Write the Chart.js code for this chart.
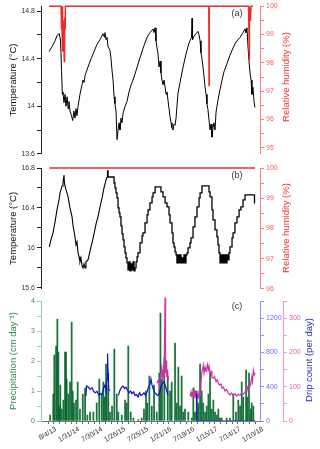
<!DOCTYPE html>
<html>
<head>
<meta charset="utf-8">
<script src="https://cdn.jsdelivr.net/npm/chart.js@4.4.1/dist/chart.umd.min.js"></script>
<style>
  body { margin: 0; background: #fff; font-family: "Liberation Sans", Arial, sans-serif; }
  #wrap { position: relative; width: 320px; height: 449px; overflow: hidden; }
  canvas { position: absolute; left: 0; }
  .rt { position: absolute; white-space: nowrap; font-size: 9.5px; transform: translate(-50%, -50%) rotate(-90deg); }
  .pl { position: absolute; font-size: 9px; color: #333; transform: translate(-50%, -50%); }
</style>
</head>
<body>
<div id="wrap">
  <canvas id="chartA" width="320" height="160" style="top:0"></canvas>
  <canvas id="chartB" width="320" height="135" style="top:160px"></canvas>
  <canvas id="chartC" width="320" height="154" style="top:295px"></canvas>
  <div class="rt" style="left:285px;top:77px;color:#ee3333">Relative humidity (%)</div>
  <div class="rt" style="left:285px;top:228px;color:#ee3333">Relative humidity (%)</div>
  <div class="rt" style="left:308px;top:360px;color:#2a2ad0">Drip count (per day)</div>
  <div class="pl" style="left:237px;top:13px">(a)</div>
  <div class="pl" style="left:237px;top:175px">(b)</div>
  <div class="pl" style="left:237px;top:306px">(c)</div>
</div>
<script>
// x = days since 8/4/13
const X_MIN = -55;
const X_MAX = 1659;
const xTickDays = [];
for (let d = 0; d <= 1620; d += 45) xTickDays.push(d);
const xMajorLabels = ["8/4/13", "1/31/14", "7/30/14", "1/26/15", "7/25/15", "1/21/16", "7/19/16", "1/15/17", "7/14/17", "1/10/18"];

// panel (a)
const tempADays = [8, 31, 55, 73, 88, 98, 106, 112, 117, 125, 133, 141, 149, 157, 164, 172, 184, 193, 203, 211, 219, 227, 235, 250, 266, 274, 282, 290, 313, 337, 360, 383, 407, 430, 442, 446, 454, 462, 470, 485, 493, 501, 509, 517, 524, 532, 540, 548, 556, 563, 571, 579, 587, 603, 618, 634, 650, 665, 689, 720, 751, 775, 798, 822, 830, 838, 845, 853, 861, 869, 877, 884, 892, 900, 908, 916, 924, 931, 939, 947, 955, 963, 970, 978, 986, 994, 1002, 1017, 1033, 1057, 1080, 1103, 1111, 1123, 1127, 1131, 1143, 1158, 1174, 1182, 1190, 1197, 1205, 1213, 1221, 1229, 1237, 1244, 1252, 1260, 1268, 1276, 1283, 1291, 1299, 1307, 1315, 1330, 1346, 1362, 1377, 1401, 1424, 1448, 1471, 1503, 1526, 1542, 1549, 1557, 1565, 1573, 1581, 1589, 1596, 1604, 1612, 1620];
const tempAValues = [14.46, 14.50, 14.55, 14.60, 14.61, 14.55, 14.30, 14.10, 14.12, 14.03, 14.10, 14.00, 14.08, 13.98, 14.04, 13.96, 13.92, 13.88, 13.96, 13.90, 13.98, 13.92, 14.00, 14.10, 14.18, 14.22, 14.20, 14.26, 14.33, 14.40, 14.46, 14.52, 14.56, 14.61, 14.58, 14.62, 14.56, 14.58, 14.50, 14.47, 14.40, 14.30, 14.22, 14.08, 14.02, 13.96, 13.72, 13.80, 13.86, 13.80, 13.90, 13.86, 13.94, 14.00, 14.04, 14.12, 14.18, 14.22, 14.30, 14.41, 14.51, 14.58, 14.62, 14.65, 14.62, 14.66, 14.55, 14.49, 14.44, 14.33, 14.38, 14.28, 14.22, 14.18, 14.22, 14.16, 14.10, 14.12, 14.05, 13.98, 13.91, 13.86, 13.82, 13.80, 13.85, 13.84, 13.90, 14.11, 14.20, 14.33, 14.44, 14.53, 14.55, 14.58, 14.74, 14.56, 14.59, 14.61, 14.63, 14.60, 14.55, 14.45, 14.40, 14.33, 14.25, 14.16, 14.10, 14.02, 13.97, 13.88, 13.80, 13.85, 13.74, 13.82, 13.86, 13.80, 13.95, 14.05, 14.14, 14.22, 14.29, 14.36, 14.43, 14.49, 14.54, 14.58, 14.62, 14.65, 14.62, 14.66, 14.50, 14.38, 14.28, 14.22, 14.10, 14.16, 14.04, 13.99];
const rhADays = [8, 102, 104, 107, 110, 112, 116, 119, 122, 127, 130, 133, 135, 1258, 1260, 1262, 1569, 1573, 1575, 1578, 1583, 1586, 1590, 1604];
const rhAValues = [100, 100, 99.2, 100, 99.0, 100, 98.4, 99.5, 98.9, 98.05, 99.6, 99.2, 100, 100, 97.2, 100, 100, 98.9, 98.1, 100, 99.5, 99.7, 100, 100];
const tempATicks = [13.6, 13.8, 14, 14.2, 14.4, 14.6, 14.8];
const tempALabels = ["13.6", "", "14", "", "14.4", "", "14.8"];
const rhATicks = [95, 95.5, 96, 96.5, 97, 97.5, 98, 98.5, 99, 99.5, 100];
const rhALabels = ["95", "", "96", "", "97", "", "98", "", "99", "", "100"];

// panel (b)
const tempBSmoothDays = [10, 23, 39, 55, 70, 86, 94, 110, 117, 125, 129, 141, 157, 172, 188, 196, 211, 219, 227, 235, 243, 250, 258, 266, 274, 282, 290, 297, 313, 329, 344, 360, 376, 391, 407, 423, 438, 454, 462];
const tempBSmoothValues = [16.01, 16.08, 16.15, 16.26, 16.38, 16.48, 16.55, 16.62, 16.65, 16.73, 16.64, 16.58, 16.51, 16.40, 16.31, 16.22, 16.11, 16.03, 16.06, 15.95, 15.91, 15.86, 15.90, 15.82, 15.80, 15.84, 15.80, 15.86, 15.88, 15.97, 16.05, 16.14, 16.24, 16.31, 16.41, 16.50, 16.60, 16.68, 16.71];
const tempBStepDays = [462, 466, 470, 509, 517, 524, 532, 540, 548, 556, 563, 571, 579, 587, 595, 603, 610, 618, 626, 634, 642, 650, 657, 665, 673, 681, 689, 697, 704, 720, 736, 743, 759, 775, 783, 798, 814, 822, 838, 877, 884, 900, 916, 931, 947, 955, 970, 978, 986, 994, 1002, 1009, 1017, 1025, 1033, 1041, 1049, 1057, 1064, 1072, 1080, 1088, 1096, 1111, 1119, 1135, 1150, 1166, 1182, 1190, 1205, 1252, 1260, 1268, 1283, 1291, 1307, 1322, 1330, 1338, 1346, 1354, 1362, 1370, 1377, 1385, 1393, 1401, 1408, 1416, 1424, 1440, 1448, 1463, 1479, 1495, 1510, 1526, 1542, 1612, 1616, 1620];
const tempBStepValues = [16.71, 16.77, 16.71, 16.71, 16.65, 16.60, 16.55, 16.50, 16.40, 16.35, 16.31, 16.22, 16.14, 16.08, 16.01, 15.95, 15.90, 15.85, 15.78, 15.86, 15.77, 15.84, 15.78, 15.86, 15.77, 15.80, 15.86, 15.91, 15.95, 16.05, 16.12, 16.15, 16.25, 16.33, 16.38, 16.45, 16.51, 16.55, 16.61, 16.61, 16.56, 16.51, 16.45, 16.41, 16.33, 16.25, 16.15, 16.05, 16.01, 15.96, 15.93, 15.85, 15.93, 15.85, 15.93, 15.85, 15.90, 15.85, 15.93, 15.85, 15.93, 15.95, 16.00, 16.05, 16.10, 16.21, 16.31, 16.41, 16.50, 16.55, 16.62, 16.62, 16.56, 16.51, 16.38, 16.28, 16.18, 16.11, 16.03, 15.95, 15.85, 15.93, 15.85, 15.93, 15.85, 15.93, 15.85, 15.93, 15.88, 15.95, 16.01, 16.10, 16.15, 16.25, 16.31, 16.38, 16.41, 16.48, 16.53, 16.53, 16.45, 16.45];
const rhBDays = [10, 1620];
const rhBValues = [100, 100];
const tempBTicks = [15.6, 15.8, 16, 16.2, 16.4, 16.6, 16.8];
const tempBLabels = ["15.6", "", "16", "", "16.4", "", "16.8"];
const rhBTicks = [96, 96.5, 97, 97.5, 98, 98.5, 99, 99.5, 100];
const rhBLabels = ["96", "", "97", "", "98", "", "99", "", "100"];

// panel (c)
const precipDays = [16, 41, 49, 63, 73, 81, 88, 96, 107, 120, 133, 141, 146, 159, 172, 185, 193, 203, 219, 232, 250, 272, 290, 308, 329, 355, 381, 401, 420, 433, 442, 454, 459, 472, 485, 501, 519, 538, 550, 577, 603, 616, 628, 647, 668, 707, 733, 751, 767, 777, 793, 812, 830, 851, 871, 880, 892, 910, 937, 955, 968, 994, 1007, 1020, 1033, 1046, 1059, 1072, 1098, 1125, 1137, 1150, 1164, 1176, 1190, 1203, 1215, 1229, 1242, 1255, 1268, 1281, 1294, 1307, 1320, 1333, 1346, 1359, 1398, 1424, 1450, 1471, 1489, 1503, 1516, 1528, 1550, 1560, 1573, 1586, 1594, 1607];
const precipValues = [0.2, 0.9, 2.2, 2.5, 3.4, 2.3, 0.5, 1.2, 0.4, 0.7, 2.3, 2.3, 1.4, 0.9, 1.3, 3.3, 1.0, 0.6, 0.7, 1.3, 0.4, 0.9, 1.1, 0.2, 0.3, 0.3, 0.6, 1.4, 0.9, 1.3, 0.8, 1.9, 1.1, 1.2, 0.3, 0.5, 2.4, 0.9, 0.3, 0.2, 0.7, 0.6, 2.5, 0.3, 0.1, 0.05, 0.1, 0.4, 1.0, 0.6, 1.5, 0.5, 1.2, 0.3, 1.6, 3.6, 1.4, 2.1, 1.5, 1.0, 1.3, 2.6, 0.6, 1.8, 0.5, 1.5, 0.3, 0.4, 0.3, 0.1, 1.1, 0.3, 1.0, 0.6, 1.9, 1.0, 0.6, 0.3, 0.5, 0.9, 1.6, 0.4, 0.7, 0.3, 0.2, 0.4, 0.1, 0.1, 0.1, 0.1, 0.9, 0.3, 0.7, 0.5, 1.3, 0.8, 1.7, 0.8, 1.6, 0.4, 0.6, 0.5];
const dripBlueDays = [297, 301, 313, 329, 344, 356, 368, 383, 399, 411, 423, 434, 446, 454, 462, 466, 470, 473, 481, 515, 550, 563, 575, 587, 599, 610, 622, 634, 646, 657, 669, 681, 693, 704, 716, 728, 740, 751, 763, 775, 787, 798, 806, 814, 826, 838, 849, 861, 873, 884, 896, 908, 920, 931, 939, 1050, 1162, 1166, 1620];
const dripBlueValues = [290, 410, 400, 370, 390, 350, 330, 345, 300, 320, 310, 380, 420, 360, 500, 790, 560, 380, 350, null, 300, 360, 390, 410, 380, 395, 360, 330, 350, 320, 340, 300, 310, 280, 330, 300, 310, 330, 300, 340, 400, 430, 490, 420, 360, 330, 310, 300, 330, 400, 440, 460, 400, 340, 300, null, 330, 0, 0];
const dripPinkDays = [853, 863, 873, 877, 884, 890, 896, 902, 908, 916, 920, 924, 929, 935, 941, 1020, 1111, 1119, 1125, 1131, 1137, 1143, 1150, 1158, 1164, 1170, 1176, 1182, 1190, 1197, 1203, 1209, 1215, 1221, 1229, 1237, 1242, 1248, 1255, 1260, 1268, 1276, 1283, 1294, 1303, 1315, 1323, 1333, 1342, 1354, 1362, 1372, 1385, 1397, 1411, 1424, 1436, 1450, 1463, 1475, 1489, 1503, 1516, 1526, 1542, 1550, 1560, 1565, 1575, 1585, 1594, 1600, 1607, 1614, 1620];
const dripPinkValues = [110, 119, 100, 128, 140, 157, 130, 148, 120, 361, 140, 177, 128, 150, 119, null, 73, 85, 70, 82, 76, 90, 67, 85, 81, 70, 67, 85, 76, 110, 140, 150, 163, 140, 158, 145, 154, 165, 150, 160, 140, 145, 128, 125, 130, 115, 120, 111, 105, 108, 96, 99, 88, 92, 81, 76, 82, 74, 80, 73, 78, 75, 82, 78, 84, 95, 99, 90, 113, 105, 128, 115, 148, 134, 140];
const precipTicks = [0, 0.5, 1, 1.5, 2, 2.5, 3, 3.5, 4];
const precipLabels = ["0", "", "1", "", "2", "", "3", "", "4"];
const blueTicks = [0, 200, 400, 600, 800, 1000, 1200, 1400];
const blueLabels = ["0", "", "400", "", "800", "", "1200", ""];
const pinkTicks = [0, 50, 100, 150, 200, 250, 300, 350];
const pinkLabels = ["0", "", "100", "", "200", "", "300", ""];

function pts(days, vals) {
  return days.map((d, i) => ({ x: d, y: vals[i] }));
}

const tickFont = { family: "'Liberation Sans', Arial, sans-serif", size: 7 };
const titleFont = { family: "'Liberation Sans', Arial, sans-serif", size: 9.5 };

// y axis with explicit ticks and labels
function yAxis(pos, min, max, ticks, labels, width, col, labelCol, extra) {
  return Object.assign({
    type: "linear",
    position: pos,
    min: min,
    max: max,
    afterFit: (s) => { s.width = width; },
    afterBuildTicks: (s) => { s.ticks = ticks.map((v) => ({ value: v })); },
    ticks: { callback: (v, i) => labels[i], font: tickFont, color: labelCol, padding: 2, autoSkip: false },
    grid: { drawOnChartArea: false, tickLength: 4, color: col },
    border: { color: col, width: 1 },
  }, extra || {});
}

function hiddenX() {
  return { type: "linear", min: X_MIN, max: X_MAX, display: false };
}

const baseOpts = {
  responsive: false,
  animation: false,
  devicePixelRatio: 1,
  plugins: { legend: { display: false }, tooltip: { enabled: false } },
  elements: { point: { radius: 0 } },
};

// (a)
new Chart(document.getElementById("chartA"), {
  type: "line",
  data: {
    datasets: [
      { data: pts(rhADays, rhAValues), yAxisID: "yR", borderColor: "#f02a2a", borderWidth: 1.4, clip: false },
      { data: pts(tempADays, tempAValues), yAxisID: "yT", borderColor: "#000", borderWidth: 1 },
    ],
  },
  options: Object.assign({}, baseOpts, {
    layout: { padding: { top: 5, bottom: 6, left: 0, right: 0 } },
    scales: {
      x: hiddenX(),
      yT: yAxis("left", 13.6, 14.8417, tempATicks, tempALabels, 41, "#222", "#333", {
        title: { display: true, text: "Temperature (°C)", font: titleFont, color: "#111", padding: { top: 8, bottom: 0 } },
      }),
      yR: yAxis("right", 94.79, 100, rhATicks, rhALabels, 60, "#ff8080", "#ff5a5a"),
    },
  }),
});

// (b)
new Chart(document.getElementById("chartB"), {
  type: "line",
  data: {
    datasets: [
      { data: pts(rhBDays, rhBValues), yAxisID: "yR", borderColor: "#f02a2a", borderWidth: 1.4, clip: false },
      { data: pts(tempBSmoothDays, tempBSmoothValues), yAxisID: "yT", borderColor: "#000", borderWidth: 1.1 },
      { data: pts(tempBStepDays, tempBStepValues), yAxisID: "yT", borderColor: "#000", borderWidth: 1.3, stepped: true },
    ],
  },
  options: Object.assign({}, baseOpts, {
    layout: { padding: { top: 8, bottom: 6, left: 0, right: 0 } },
    scales: {
      x: hiddenX(),
      yT: yAxis("left", 15.59, 16.8, tempBTicks, tempBLabels, 41, "#222", "#333", {
        title: { display: true, text: "Temperature (°C)", font: titleFont, color: "#111", padding: { top: 8, bottom: 0 } },
      }),
      yR: yAxis("right", 96, 100, rhBTicks, rhBLabels, 60, "#ff8080", "#ff5a5a"),
    },
  }),
});

// (c)
new Chart(document.getElementById("chartC"), {
  type: "bar",
  data: {
    datasets: [
      { type: "line", data: pts(dripBlueDays, dripBlueValues), yAxisID: "yB", borderColor: "#1010c8", borderWidth: 1.2, order: 1 },
      { type: "line", data: pts(dripPinkDays, dripPinkValues), yAxisID: "yK", borderColor: "#cc33aa", borderWidth: 1.2, order: 2, clip: 6 },
      { type: "bar", data: pts(precipDays, precipValues), yAxisID: "yP", backgroundColor: "rgba(0,100,40,0.9)", barThickness: 1.1, order: 3 },
    ],
  },
  options: Object.assign({}, baseOpts, {
    layout: { padding: { top: 6, bottom: 0, left: 0, right: 0 } },
    scales: {
      x: {
        type: "linear",
        min: X_MIN,
        max: X_MAX,
        offset: false,
        afterFit: (s) => { s.height = 28; },
        afterBuildTicks: (s) => { s.ticks = xTickDays.map((v) => ({ value: v })); },
        ticks: {
          callback: (v) => (v % 180 === 0 ? xMajorLabels[v / 180] : ""),
          minRotation: 30,
          maxRotation: 30,
          autoSkip: false,
          font: tickFont,
          color: "#333",
          padding: 1,
          labelOffset: 8,
        },
        grid: { drawOnChartArea: false, tickLength: 3, color: "#666", offset: false },
        border: { color: "#777" },
      },
      yP: yAxis("left", 0, 4, precipTicks, precipLabels, 41, "#9fcbb0", "#4a8a64", {
        title: { display: true, text: "Precipitation (cm day\u207B\u00B9)", font: titleFont, color: "#2f8a56", padding: { top: 8, bottom: 0 } },
      }),
      yB: yAxis("right", 0, 1400, blueTicks, blueLabels, 23, "#8c8cff", "#6a6aff", { weight: 0 }),
      yK: yAxis("right", 0, 350, pinkTicks, pinkLabels, 37, "#ee99d4", "#e060b8", { weight: 1 }),
    },
  }),
});
</script>
</body>
</html>
